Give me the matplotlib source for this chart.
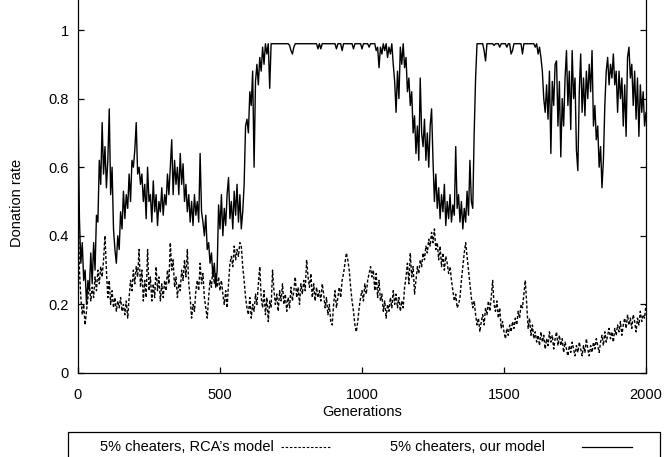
import matplotlib
matplotlib.use("Agg")
import matplotlib.pyplot as plt
import numpy as np
from matplotlib.lines import Line2D
from matplotlib.patches import Rectangle

plt.rcParams["font.family"] = ["Liberation Sans", "DejaVu Sans"]
plt.rcParams["font.size"] = 10.5

# generations sampled every 5 steps, 0..2000
STEP = 5
N_GEN = 2000

# donation rate, 5% cheaters, our model
ours = [
    0.80, 0.45, 0.32, 0.38, 0.27, 0.30, 0.20, 0.27, 0.24, 0.35, 0.26, 0.38, 0.30, 0.46, 0.44, 0.62, 0.55, 0.73, 0.58, 0.66,
    0.54, 0.62, 0.77, 0.52, 0.60, 0.42, 0.36, 0.32, 0.40, 0.36, 0.47, 0.42, 0.53, 0.45, 0.52, 0.48, 0.58, 0.50, 0.62, 0.60,
    0.65, 0.73, 0.58, 0.60, 0.55, 0.58, 0.50, 0.55, 0.45, 0.60, 0.50, 0.52, 0.44, 0.56, 0.47, 0.52, 0.43, 0.50, 0.47, 0.54,
    0.46, 0.52, 0.49, 0.58, 0.52, 0.60, 0.68, 0.52, 0.62, 0.55, 0.60, 0.52, 0.64, 0.55, 0.61, 0.50, 0.55, 0.47, 0.52, 0.44,
    0.50, 0.43, 0.52, 0.46, 0.50, 0.44, 0.64, 0.47, 0.44, 0.40, 0.46, 0.36, 0.38, 0.32, 0.35, 0.28, 0.32, 0.25, 0.30, 0.49,
    0.42, 0.52, 0.40, 0.48, 0.43, 0.52, 0.57, 0.45, 0.50, 0.42, 0.53, 0.46, 0.55, 0.44, 0.52, 0.42, 0.47, 0.55, 0.72, 0.74,
    0.70, 0.82, 0.78, 0.88, 0.60, 0.85, 0.90, 0.84, 0.92, 0.88, 0.95, 0.90, 0.96, 0.93, 0.96, 0.83, 0.96, 0.96, 0.96, 0.96,
    0.96, 0.96, 0.96, 0.96, 0.96, 0.96, 0.96, 0.96, 0.96, 0.955, 0.94, 0.93, 0.95, 0.96, 0.96, 0.96, 0.96, 0.96, 0.96, 0.96,
    0.96, 0.96, 0.96, 0.96, 0.96, 0.96, 0.96, 0.96, 0.96, 0.945, 0.96, 0.945, 0.96, 0.96, 0.96, 0.96, 0.96, 0.96, 0.96, 0.96,
    0.96, 0.96, 0.945, 0.96, 0.96, 0.96, 0.94, 0.96, 0.96, 0.96, 0.96, 0.96, 0.96, 0.96, 0.945, 0.96, 0.96, 0.96, 0.96, 0.96,
    0.945, 0.96, 0.96, 0.96, 0.96, 0.95, 0.96, 0.96, 0.96, 0.96, 0.94, 0.95, 0.89, 0.95, 0.93, 0.96, 0.94, 0.96, 0.92, 0.95,
    0.93, 0.96, 0.90, 0.85, 0.76, 0.88, 0.80, 0.95, 0.90, 0.96, 0.89, 0.92, 0.82, 0.86, 0.78, 0.82, 0.70, 0.75, 0.64, 0.72,
    0.62, 0.86, 0.70, 0.66, 0.74, 0.62, 0.70, 0.60, 0.72, 0.77, 0.62, 0.50, 0.58, 0.48, 0.54, 0.45, 0.52, 0.47, 0.55, 0.43,
    0.50, 0.45, 0.52, 0.44, 0.49, 0.46, 0.66, 0.48, 0.52, 0.44, 0.50, 0.42, 0.48, 0.44, 0.53, 0.46, 0.62, 0.50, 0.48, 0.70,
    0.86, 0.96, 0.96, 0.96, 0.96, 0.96, 0.94, 0.91, 0.96, 0.96, 0.96, 0.96, 0.96, 0.955, 0.96, 0.96, 0.96, 0.95, 0.96, 0.96,
    0.96, 0.96, 0.95, 0.96, 0.96, 0.93, 0.94, 0.96, 0.96, 0.96, 0.96, 0.96, 0.96, 0.93, 0.96, 0.96, 0.96, 0.96, 0.96, 0.96,
    0.96, 0.96, 0.95, 0.96, 0.93, 0.95, 0.92, 0.88, 0.80, 0.76, 0.84, 0.74, 0.88, 0.64, 0.85, 0.78, 0.90, 0.91, 0.72, 0.85,
    0.63, 0.80, 0.72, 0.86, 0.94, 0.78, 0.88, 0.71, 0.94, 0.80, 0.86, 0.65, 0.59, 0.82, 0.93, 0.76, 0.86, 0.75, 0.88, 0.80,
    0.90, 0.82, 0.94, 0.72, 0.78, 0.68, 0.72, 0.60, 0.66, 0.54, 0.62, 0.78, 0.88, 0.92, 0.84, 0.90, 0.86, 0.93, 0.84, 0.88,
    0.76, 0.88, 0.80, 0.86, 0.72, 0.84, 0.69, 0.92, 0.95, 0.86, 0.90, 0.78, 0.88, 0.74, 0.86, 0.69, 0.84, 0.76, 0.82, 0.72,
    0.76,
]

# donation rate, 5% cheaters, RCA's model
rca = [
    0.50, 0.30, 0.22, 0.17, 0.20, 0.14, 0.18, 0.22, 0.26, 0.21, 0.25, 0.22, 0.28, 0.24, 0.30, 0.26, 0.31, 0.28, 0.33, 0.40,
    0.30, 0.22, 0.27, 0.20, 0.24, 0.19, 0.22, 0.18, 0.21, 0.19, 0.22, 0.18, 0.20, 0.17, 0.21, 0.16, 0.22, 0.27, 0.24, 0.30,
    0.26, 0.31, 0.28, 0.36, 0.25, 0.30, 0.21, 0.27, 0.22, 0.36, 0.24, 0.28, 0.21, 0.26, 0.22, 0.31, 0.24, 0.28, 0.21, 0.26,
    0.22, 0.27, 0.24, 0.30, 0.26, 0.38, 0.30, 0.33, 0.25, 0.28, 0.22, 0.26, 0.24, 0.30, 0.27, 0.33, 0.28, 0.36, 0.26, 0.22,
    0.16, 0.20, 0.18, 0.24, 0.27, 0.24, 0.32, 0.26, 0.29, 0.22, 0.19, 0.16, 0.22, 0.27, 0.25, 0.31, 0.26, 0.29, 0.25, 0.28,
    0.24, 0.27, 0.23, 0.20, 0.24, 0.19, 0.26, 0.32, 0.34, 0.31, 0.37, 0.33, 0.36, 0.34, 0.38, 0.37, 0.31, 0.27, 0.22, 0.19,
    0.17, 0.22, 0.16, 0.20, 0.18, 0.23, 0.20, 0.26, 0.31, 0.22, 0.19, 0.24, 0.17, 0.22, 0.15, 0.21, 0.19, 0.30, 0.24, 0.20,
    0.23, 0.18, 0.24, 0.21, 0.26, 0.20, 0.23, 0.18, 0.22, 0.19, 0.25, 0.21, 0.24, 0.28, 0.22, 0.25, 0.20, 0.26, 0.23, 0.27,
    0.24, 0.33, 0.28, 0.25, 0.29, 0.22, 0.26, 0.21, 0.25, 0.22, 0.24, 0.21, 0.26, 0.23, 0.19, 0.22, 0.17, 0.20, 0.15, 0.14,
    0.20, 0.24, 0.19, 0.22, 0.25, 0.22, 0.27, 0.29, 0.32, 0.35, 0.33, 0.30, 0.25, 0.21, 0.18, 0.14, 0.12, 0.15, 0.19, 0.22,
    0.24, 0.21, 0.26, 0.23, 0.27, 0.29, 0.31, 0.28, 0.30, 0.24, 0.29, 0.22, 0.27, 0.21, 0.23, 0.18, 0.21, 0.16, 0.20, 0.18,
    0.22, 0.19, 0.24, 0.20, 0.23, 0.19, 0.22, 0.18, 0.21, 0.19, 0.25, 0.28, 0.32, 0.26, 0.35, 0.28, 0.31, 0.23, 0.27, 0.31,
    0.29, 0.33, 0.31, 0.35, 0.33, 0.37, 0.35, 0.39, 0.37, 0.41, 0.38, 0.42, 0.36, 0.38, 0.33, 0.37, 0.31, 0.35, 0.30, 0.34,
    0.32, 0.29, 0.31, 0.27, 0.24, 0.21, 0.23, 0.19, 0.20, 0.22, 0.27, 0.31, 0.35, 0.38, 0.34, 0.30, 0.26, 0.22, 0.19, 0.21,
    0.17, 0.14, 0.16, 0.12, 0.15, 0.17, 0.14, 0.19, 0.17, 0.21, 0.18, 0.22, 0.27, 0.20, 0.18, 0.21, 0.16, 0.19, 0.13, 0.15,
    0.12, 0.10, 0.13, 0.11, 0.14, 0.12, 0.15, 0.13, 0.16, 0.14, 0.18, 0.16, 0.20, 0.19, 0.23, 0.27, 0.20, 0.13, 0.16, 0.11,
    0.14, 0.10, 0.12, 0.09, 0.11, 0.08, 0.12, 0.09, 0.11, 0.07, 0.10, 0.08, 0.12, 0.09, 0.11, 0.07, 0.10, 0.12, 0.08, 0.11,
    0.08, 0.10, 0.06, 0.09, 0.07, 0.05, 0.08, 0.06, 0.09, 0.07, 0.05, 0.08, 0.06, 0.09, 0.07, 0.05, 0.08, 0.06, 0.10, 0.07,
    0.05, 0.08, 0.06, 0.09, 0.07, 0.10, 0.08, 0.06, 0.09, 0.11, 0.08, 0.12, 0.09, 0.11, 0.13, 0.10, 0.12, 0.09, 0.13, 0.11,
    0.14, 0.12, 0.15, 0.11, 0.14, 0.16, 0.13, 0.17, 0.14, 0.16, 0.13, 0.17, 0.15, 0.12, 0.16, 0.14, 0.18, 0.15, 0.17, 0.16,
    0.20,
]

labels = ["5% cheaters, RCA\u2019s model", "5% cheaters, our model"]
xticks = [0, 500, 1000, 1500, 2000]
yticks = [0, 0.2, 0.4, 0.6, 0.8, 1]

gen = np.arange(0, N_GEN + 1, STEP)

W, H = 664, 457
fig = plt.figure(figsize=(W / 100, H / 100), dpi=100)
# plot box in pixels: left 78, right 646, bottom 373 (from top), top cropped at 0
ax = fig.add_axes([78 / W, (H - 373) / H, 568 / W, 373 / H])

dash = (0, (2.2, 1.4))
ax.plot(gen, rca, color="black", lw=1.0, ls=dash)
ax.plot(gen, ours, color="black", lw=1.0)

ax.set_xlim(0, N_GEN)
ax.set_ylim(0, 373 / 343)
ax.set_xticks(xticks)
ax.set_yticks(yticks)
ax.set_yticklabels(["0", "0.2", "0.4", "0.6", "0.8", "1"])
ax.spines["top"].set_visible(False)
for s in ("left", "right", "bottom"):
    ax.spines[s].set_linewidth(0.9)
ax.tick_params(axis="both", direction="in", length=4.5, width=0.9, right=True)
ax.tick_params(axis="y", pad=6.5)
ax.tick_params(axis="x", pad=10.5)

ax.set_xlabel("Generations")
ax.xaxis.set_label_coords((362 - 78) / 568, (373 - 412) / 373)
ax.xaxis.label.set_va("center")
ax.set_ylabel("Donation rate")
ax.yaxis.set_label_coords((17 - 78) / 568, (373 - 203) / 373)
ax.yaxis.label.set_va("center")

# gnuplot-style key below the plot, text first then the line sample
def fx(px):
    return px / W

def fy(py):
    return (H - py) / H

fig.add_artist(Rectangle((fx(68), fy(470)), fx(660) - fx(68), fy(432) - fy(470),
                         fill=False, lw=0.9, edgecolor="black", transform=fig.transFigure))
ty = 447
fig.text(fx(100), fy(ty), labels[0], ha="left", va="center")
fig.add_artist(Line2D([fx(281), fx(331)], [fy(ty), fy(ty)], color="black", lw=0.8, ls=(0, (2.2, 1.6)),
                      transform=fig.transFigure))
fig.text(fx(390), fy(ty), labels[1], ha="left", va="center")
fig.add_artist(Line2D([fx(582), fx(632)], [fy(ty), fy(ty)], color="black", lw=0.9,
                      transform=fig.transFigure))

fig.savefig("out.png", dpi=100)
